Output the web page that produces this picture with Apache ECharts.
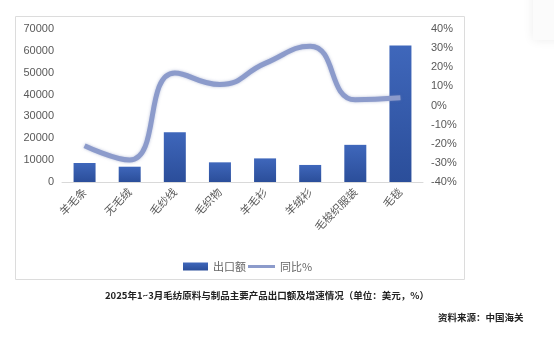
<!DOCTYPE html>
<html>
<head>
<meta charset="utf-8">
<script src="https://cdn.jsdelivr.net/npm/echarts@6/dist/echarts.min.js"></script>
<style>
  html, body { margin: 0; padding: 0; background: #fff; }
  #chart { width: 554px; height: 337px; }
</style>
</head>
<body>
<div id="chart"></div>
<script>
// Product categories
const categories = ['羊毛条', '无毛绒', '毛纱线', '毛织物', '羊毛衫', '羊绒衫', '毛梭织服装', '毛毯'];
// Export value (USD)
const exportValues = [8700, 7000, 22800, 9000, 10800, 7800, 17000, 62400];
// Year-on-year change (%)
const yoyValues = [-21, -28.5, 17, 11, 22, 31, 3, 4];
// Axis ticks
const leftTicks = { min: 0, max: 70000, interval: 10000 };
const rightTicks = { min: -40, max: 40, interval: 10 };

const chart = echarts.init(document.getElementById('chart'), null, { renderer: 'canvas' });
const font = '"Noto Sans CJK SC", "Noto Sans", sans-serif';
const numFont = '"Liberation Sans", Arial, sans-serif';
const legendText = { color: '#666', fontSize: 11, fontFamily: font };

chart.setOption({
  animation: false,
  textStyle: { fontFamily: font },
  grid: { left: 62, right: 131, top: 29, bottom: 155 },
  graphic: [
    { type: 'rect', shape: { x: 15.5, y: 16.5, width: 449, height: 263 },
      style: { fill: 'none', stroke: '#dcdcdc', lineWidth: 1 }, z: -1 },
    { type: 'rect', shape: { x: 533, y: -10, width: 40, height: 50 },
      style: { fill: '#fbfbfb', shadowBlur: 10, shadowColor: 'rgba(0,0,0,0.08)' }, z: -2 },
    { type: 'text', left: 105, top: 291,
      style: { text: '2025年1~3月毛纺原料与制品主要产品出口额及增速情况（单位：美元，%）',
               font: 'bold 9.5px ' + font, fill: '#222' } },
    { type: 'text', left: 438, top: 313,
      style: { text: '资料来源：中国海关', font: 'bold 9.5px ' + font, fill: '#222' } }
  ],
  legend: [
    {
      left: 178, top: 256, itemWidth: 25, itemHeight: 8, itemGap: 6,
      textStyle: legendText,
      data: [{ name: '出口额', icon: 'rect' }]
    },
    {
      left: 243, top: 256, itemWidth: 27, itemHeight: 3, itemGap: 6,
      textStyle: legendText,
      data: [{ name: '同比%', icon: 'rect' }]
    }
  ],
  xAxis: {
    type: 'category',
    data: categories,
    axisLine: { lineStyle: { color: '#d9d9d9' } },
    axisTick: { show: false },
    axisLabel: { rotate: 45, color: '#595959', fontSize: 11, margin: 8, interval: 0 }
  },
  yAxis: [
    {
      type: 'value', min: leftTicks.min, max: leftTicks.max, interval: leftTicks.interval,
      axisLine: { show: false }, axisTick: { show: false }, splitLine: { show: false },
      axisLabel: { color: '#595959', fontSize: 11, margin: 8, fontFamily: numFont,
                   formatter: (v) => String(v) }
    },
    {
      type: 'value', min: rightTicks.min, max: rightTicks.max, interval: rightTicks.interval,
      axisLine: { show: false }, axisTick: { show: false }, splitLine: { show: false },
      axisLabel: { color: '#595959', fontSize: 11, margin: 8, formatter: '{value}%', fontFamily: numFont }
    }
  ],
  series: [
    {
      name: '出口额', type: 'bar', data: exportValues, barWidth: 22,
      itemStyle: {
        color: new echarts.graphic.LinearGradient(0, 0, 0, 1, [
          { offset: 0, color: '#3f67bb' },
          { offset: 1, color: '#2b4e9a' }
        ])
      }
    },
    {
      name: '同比%', type: 'line', yAxisIndex: 1, data: yoyValues, smooth: 0.5,
      symbol: 'none',
      lineStyle: { color: '#8c9bcb', width: 5, shadowBlur: 3, shadowColor: 'rgba(110,125,180,0.5)' },
      itemStyle: { color: '#8c9bcb' }
    }
  ]
});
</script>
</body>
</html>
